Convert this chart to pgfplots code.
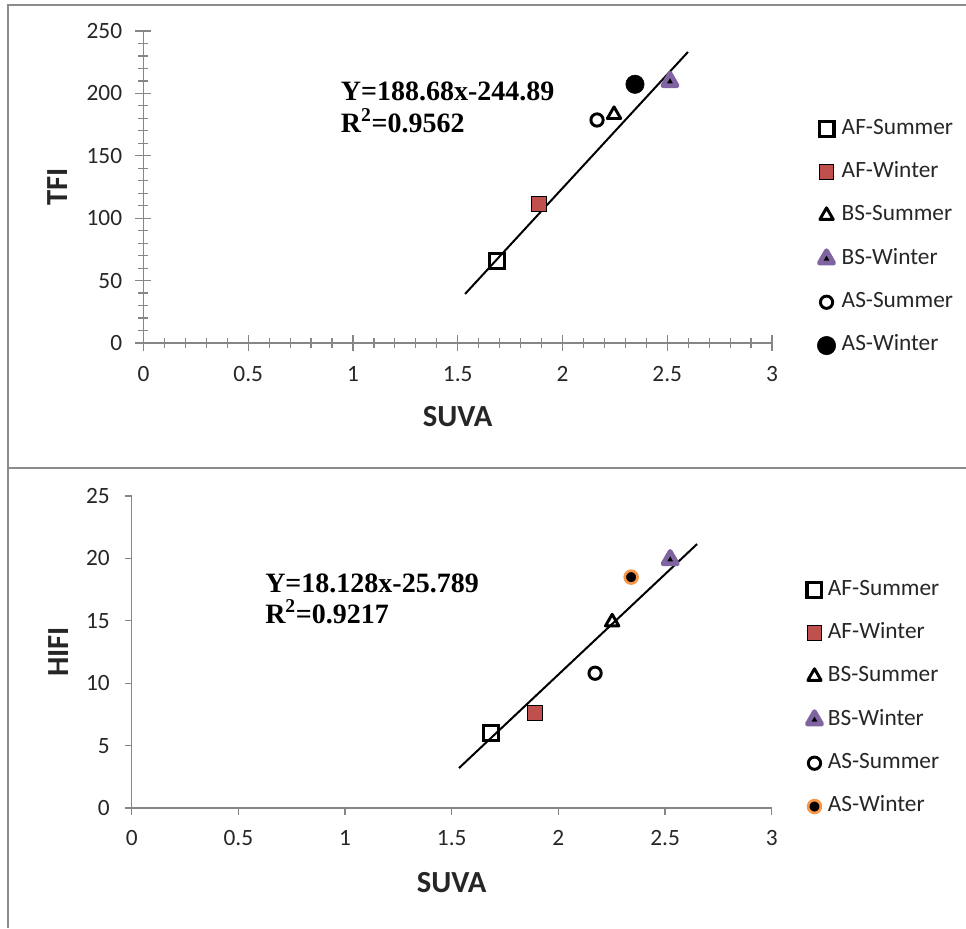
\documentclass[border=0pt]{standalone}
\usepackage{fontspec}
\setmainfont{Carlito}
\newfontfamily\eqfont{Liberation Serif}
\usepackage{pgfplots}
\pgfplotsset{compat=1.18}
\definecolor{axgray}{HTML}{868686}
\definecolor{afred}{HTML}{C0504D}
\definecolor{bspurple}{HTML}{8064A2}
\definecolor{asorange}{HTML}{F79646}
\definecolor{framegray}{HTML}{8C8C8C}
\definecolor{txt}{HTML}{262626}

\pgfplotsset{
 common/.style={
  scale only axis,
  xmin=0, xmax=3,
  xtick={0,0.5,1,1.5,2,2.5,3},
  axis x line*=bottom, axis y line*=left,
  xtick pos=left, ytick pos=left,
  axis line style={axgray, line width=1.1pt},
  every tick/.style={axgray, line width=0.9pt},
  tick label style={font=\fontsize{17.5}{20}\selectfont, text=txt},
  /pgf/number format/assume math mode=true,
  label style={font=\bfseries\fontsize{23}{27}\selectfont, text=txt},
  clip=false,
  legend style={draw=none, fill=none, font=\fontsize{17.5}{20}\selectfont, text=txt,
    inner sep=0pt, row sep=14.5pt, column sep=0pt,
    nodes={inner sep=1pt, text height=12pt, text depth=4pt},
    /tikz/every odd column/.append style={column sep=3.5pt}},
  legend cell align=left,
  legend image code/.code={\draw[mark repeat=2,mark phase=2,#1] plot coordinates {(0pt,0pt)(6pt,0pt)(12pt,0pt)};},
 },
 afs/.style={only marks, mark=square, mark size=5.6pt, draw=black, mark options={line width=2.3pt, fill=white}},
 afw/.style={only marks, mark=square*, mark size=5.5pt, draw=black, fill=afred, mark options={line width=0.75pt}},
 bss/.style={only marks, mark=triangle, mark size=5.8pt, draw=black, mark options={line width=2.2pt, line join=round}},
 bsw/.style={only marks, mark=triangle*, mark size=6.2pt, draw=bspurple, fill=black, mark options={line width=3.5pt, line join=round}},
 ass/.style={only marks, mark=o, mark size=4.6pt, draw=black, mark options={line width=2.2pt}},
}

\begin{document}
\begin{tikzpicture}
\useasboundingbox (0,0) rectangle (724.5pt,-696pt);
\draw[framegray, line width=1.5pt] (6pt,-696pt) -- (6pt,-3.75pt) -- (724.5pt,-3.75pt);
\draw[framegray, line width=2pt] (6pt,-351pt) -- (724.5pt,-351pt);

% ---------------- top panel ----------------
\begin{axis}[common,
  at={(107.6pt,-257.25pt)}, anchor=south west,
  width=471.4pt, height=234pt,
  ymin=0, ymax=250, ytick={0,50,100,150,200,250},
  minor x tick num=4, minor y tick num=4,
  tick align=center, major tick length=12pt, minor tick length=7.5pt,
  yticklabel style={xshift=-6.5pt},
  xticklabel style={yshift=-8pt},
  xlabel={SUVA}, ylabel={TFI},
  xlabel style={at={(axis description cs:0.5,-0.237)}, anchor=center},
  ylabel style={at={(axis description cs:-0.136,0.5)}, anchor=center},
  legend style={at={(axis description cs:1.0717,0.339)}, anchor=west},
]
\addplot[afs] coordinates {(1.687,65.7)}; \addlegendentry{AF-Summer}
\addplot[afw] coordinates {(1.888,111.4)}; \addlegendentry{AF-Winter}
\addplot[bss] coordinates {(2.246,183)}; \addlegendentry{BS-Summer}
\addplot[bsw] coordinates {(2.513,209.5)}; \addlegendentry{BS-Winter}
\addplot[ass] coordinates {(2.165,178.7)}; \addlegendentry{AS-Summer}
\addplot[only marks, mark=*, mark size=6.9pt, draw=black, fill=black] coordinates {(2.346,207.3)}; \addlegendentry{AS-Winter}
\addplot[black, line width=1.5pt, no marks, forget plot] coordinates {(1.535,39.3) (2.599,233.2)};
\end{axis}

% ---------------- bottom panel ----------------
\begin{axis}[common,
  at={(98.8pt,-606pt)}, anchor=south west,
  width=480pt, height=234pt,
  ymin=0, ymax=25, ytick={0,5,10,15,20,25},
  tick align=outside, major tick length=5pt,
  yticklabel style={xshift=-8pt},
  xticklabel style={yshift=-8pt},
  xlabel={SUVA}, ylabel={HIFI},
  xlabel style={at={(axis description cs:0.5,-0.24)}, anchor=center},
  ylabel style={at={(axis description cs:-0.115,0.5)}, anchor=center},
  legend style={at={(axis description cs:1.0547,0.352)}, anchor=west},
]
\addplot[afs] coordinates {(1.684,6.0)}; \addlegendentry{AF-Summer}
\addplot[afw] coordinates {(1.891,7.6)}; \addlegendentry{AF-Winter}
\addplot[bss] coordinates {(2.252,14.9)}; \addlegendentry{BS-Summer}
\addplot[bsw] coordinates {(2.524,19.9)}; \addlegendentry{BS-Winter}
\addplot[ass] coordinates {(2.172,10.8)}; \addlegendentry{AS-Summer}
\addplot[only marks, mark=*, mark size=4.8pt, draw=asorange, fill=black, mark options={line width=2pt}] coordinates {(2.341,18.5)}; \addlegendentry{AS-Winter}
\addplot[black, line width=1.5pt, no marks, forget plot] coordinates {(1.534,3.2) (2.650,21.15)};
\end{axis}

% ---------------- regression equations ----------------
\node[anchor=base west, inner sep=0pt, font=\eqfont\bfseries\fontsize{21}{24}\selectfont] at (255.5pt,-75.5pt) {Y=188.68x-244.89};
\node[anchor=base west, inner sep=0pt, font=\eqfont\bfseries\fontsize{21}{24}\selectfont] at (255.5pt,-99pt) {R\textsuperscript{2}=0.9562};
\node[anchor=base west, inner sep=0pt, font=\eqfont\bfseries\fontsize{21}{24}\selectfont] at (198.75pt,-444pt) {Y=18.128x-25.789};
\node[anchor=base west, inner sep=0pt, font=\eqfont\bfseries\fontsize{21}{24}\selectfont] at (198.75pt,-467.25pt) {R\textsuperscript{2}=0.9217};
\end{tikzpicture}
\end{document}
